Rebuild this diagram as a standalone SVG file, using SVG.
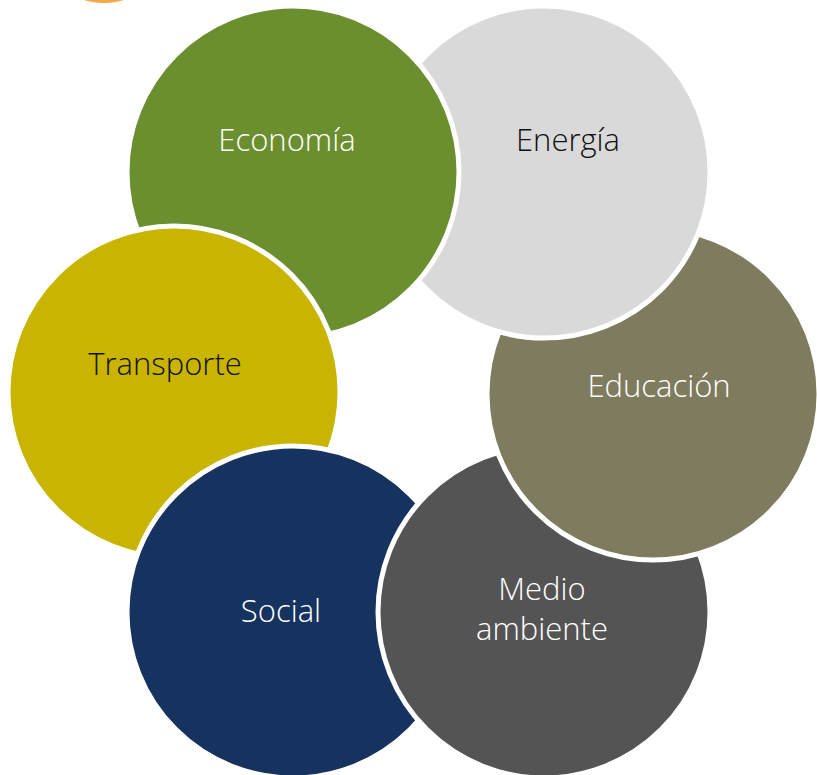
<svg xmlns="http://www.w3.org/2000/svg" width="817" height="775" viewBox="0 0 817 775">
<defs>
<style>
.c{stroke:#FFFFFF;stroke-width:5}
.t{font-family:"Open Sans","Liberation Sans",sans-serif;font-weight:300;font-size:31px;text-anchor:middle}
.w{fill:#FFFFFF}
.k{fill:#111111}
</style>
<clipPath id="clipE"><rect x="355" y="0" width="220" height="345"/></clipPath>
</defs>
<rect width="817" height="775" fill="#FFFFFF"/>
<g id="deco"><circle cx="104" cy="-64" r="67" fill="#F7A945"/></g>
<g id="n-economia"><circle class="c" cx="293" cy="172" r="166" fill="#6B8E2F"/></g>
<g id="n-transporte"><circle class="c" cx="174" cy="392" r="166" fill="#C9B400"/><text class="t k" x="165" y="375">Transporte</text></g>
<g id="n-social"><circle class="c" cx="293" cy="612" r="166" fill="#15335E"/><text class="t w" x="281" y="622">Social</text></g>
<g id="n-medio"><circle class="c" cx="544" cy="612" r="166" fill="#545454"/><text class="t w" x="542" y="600">Medio</text><text class="t w" x="542" y="640">ambiente</text></g>
<g id="n-educacion"><circle class="c" cx="653" cy="394" r="166" fill="#7F7B5F"/><text class="t w" x="659" y="397">Educación</text></g>
<g id="n-energia"><circle class="c" cx="544" cy="172" r="166" fill="#D9D9D9"/><text class="t k" x="568" y="151">Energía</text></g>
<g id="n-economia-top"><circle class="c" cx="293" cy="172" r="166" fill="#6B8E2F" clip-path="url(#clipE)"/><text class="t w" x="287" y="151">Economía</text></g>
<g id="connectors"></g>
</svg>
